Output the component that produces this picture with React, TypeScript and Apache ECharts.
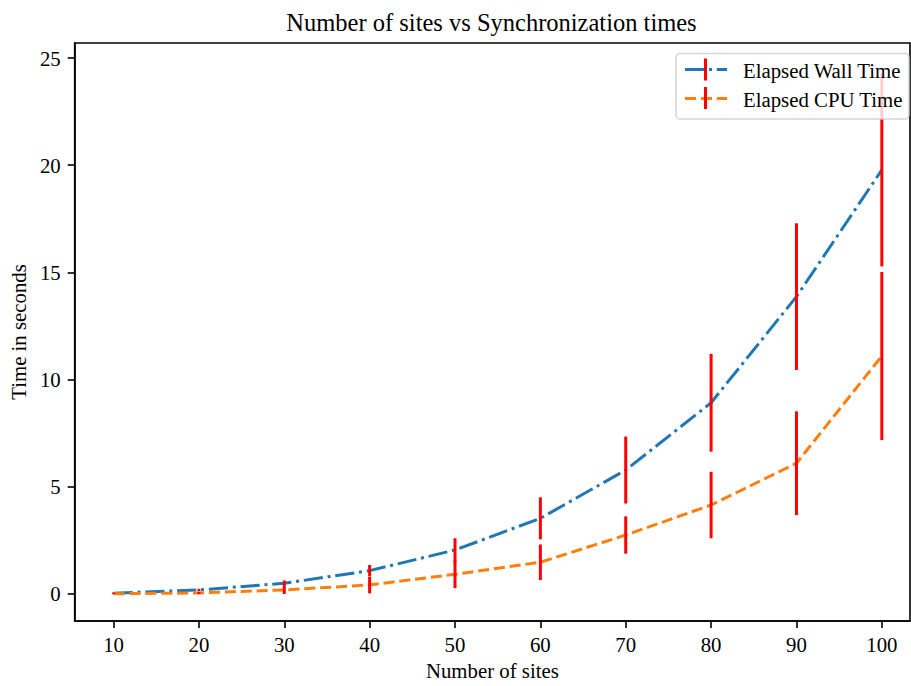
import React, { useEffect, useRef } from "react";
import * as echarts from "echarts";

const sites = [10, 20, 30, 40, 50, 60, 70, 80, 90, 100];
const wallTime = [0.04, 0.19, 0.5, 1.09, 2.05, 3.53, 5.78, 8.92, 13.87, 19.78];
const wallErr = [0.03, 0.05, 0.13, 0.26, 0.55, 0.98, 1.56, 2.28, 3.42, 4.5];
const cpuTime = [0.01, 0.05, 0.19, 0.42, 0.92, 1.48, 2.75, 4.15, 6.1, 11.1];
const cpuErr = [0.02, 0.05, 0.19, 0.39, 0.65, 0.83, 0.87, 1.55, 2.42, 3.92];
const xTicks = [10, 20, 30, 40, 50, 60, 70, 80, 90, 100];
const yTicks = [0, 5, 10, 15, 20, 25];

const FONT = "'Liberation Serif', 'DejaVu Serif', serif";
const FS = 20.8;
const BLUE = "#1f77b4";
const ORANGE = "#ff7f0e";
const RED = "#ff0000";
const DASH_DOT = [19.2, 4.8, 3, 4.8];
const DASHED = [11.1, 4.8];

function errorSeries(values: number[], errs: number[], name: string) {
  return {
    type: "custom",
    name,
    z: 5,
    data: sites.map((x, i) => [x, values[i] - errs[i], values[i] + errs[i]]),
    encode: { x: 0, y: [1, 2] },
    renderItem: (_params: any, api: any) => {
      const p1 = api.coord([api.value(0), api.value(1)]);
      const p2 = api.coord([api.value(0), api.value(2)]);
      return {
        type: "line",
        shape: { x1: p1[0], y1: p1[1], x2: p2[0], y2: p2[1] },
        style: { stroke: RED, lineWidth: 3 },
      };
    },
  };
}

export default function App() {
  const ref = useRef<HTMLDivElement>(null);
  useEffect(() => {
    if (!ref.current) return;
    const chart = echarts.init(ref.current, undefined, { renderer: "svg" });
    const axisCommon = {
      type: "value",
      axisLine: { show: true, onZero: false, lineStyle: { color: "#000", width: 1.6 } },
      splitLine: { show: false },
    };
    chart.setOption({
      animation: false,
      backgroundColor: "#ffffff",
      grid: {
        left: 73,
        right: 1,
        top: 43,
        bottom: 65,
        show: true,
        borderColor: "#000",
        borderWidth: 1.6,
        backgroundColor: "transparent",
      },
      xAxis: {
        ...axisCommon,
        min: 5.45,
        max: 103.3,
        name: "Number of sites",
        nameLocation: "middle",
        nameGap: 34,
        nameTextStyle: { fontFamily: FONT, fontSize: FS, color: "#000" },
        axisTick: {
          show: true,
          inside: false,
          length: 7,
          lineStyle: { color: "#000", width: 1.6 },
          customValues: xTicks,
        },
        axisLabel: {
          customValues: xTicks,
          fontFamily: FONT,
          fontSize: FS,
          color: "#000",
          margin: 13,
        },
      },
      yAxis: {
        ...axisCommon,
        min: -1.26,
        max: 25.7,
        name: "Time in seconds",
        nameLocation: "middle",
        nameGap: 44,
        nameTextStyle: { fontFamily: FONT, fontSize: FS, color: "#000" },
        axisTick: {
          show: true,
          inside: false,
          length: 7,
          lineStyle: { color: "#000", width: 1.6 },
          customValues: yTicks,
        },
        axisLabel: {
          customValues: yTicks,
          fontFamily: FONT,
          fontSize: FS,
          color: "#000",
          margin: 14,
        },
      },
      series: [
        {
          type: "line",
          name: "Elapsed Wall Time",
          data: sites.map((x, i) => [x, wallTime[i]]),
          symbol: "none",
          showSymbol: false,
          z: 3,
          lineStyle: { color: BLUE, width: 3, type: DASH_DOT, cap: "butt" },
        },
        {
          type: "line",
          name: "Elapsed CPU Time",
          data: sites.map((x, i) => [x, cpuTime[i]]),
          symbol: "none",
          showSymbol: false,
          z: 3,
          lineStyle: { color: ORANGE, width: 3, type: DASHED, cap: "butt" },
        },
        errorSeries(wallTime, wallErr, "wall-err"),
        errorSeries(cpuTime, cpuErr, "cpu-err"),
      ],
      graphic: [
        {
          type: "text",
          x: 491.5,
          y: 22,
          z: 100,
          style: {
            text: "Number of sites vs Synchronization times",
            fontFamily: FONT,
            fontSize: 24.5,
            fill: "#000",
            align: "center",
            verticalAlign: "middle",
          },
        },
        {
          type: "group",
          z: 100,
          children: [
            {
              type: "rect",
              z: 100,
              shape: { x: 676, y: 53.5, width: 233, height: 65.5, r: 4 },
              style: { fill: "rgba(255,255,255,0.8)", stroke: "rgba(204,204,204,0.8)", lineWidth: 1.6 },
            },
            {
              type: "line",
              z: 101,
              shape: { x1: 685, y1: 69.5, x2: 727, y2: 69.5 },
              style: { stroke: BLUE, lineWidth: 3, lineDash: DASH_DOT },
            },
            {
              type: "line",
              z: 102,
              shape: { x1: 705.5, y1: 58.5, x2: 705.5, y2: 80.5 },
              style: { stroke: RED, lineWidth: 3 },
            },
            {
              type: "text",
              z: 101,
              x: 743,
              y: 70.5,
              style: {
                text: "Elapsed Wall Time",
                fontFamily: FONT,
                fontSize: FS,
                fill: "#000",
                verticalAlign: "middle",
              },
            },
            {
              type: "line",
              z: 101,
              shape: { x1: 685, y1: 98.5, x2: 727, y2: 98.5 },
              style: { stroke: ORANGE, lineWidth: 3, lineDash: DASHED },
            },
            {
              type: "line",
              z: 102,
              shape: { x1: 705.5, y1: 87, x2: 705.5, y2: 109 },
              style: { stroke: RED, lineWidth: 3 },
            },
            {
              type: "text",
              z: 101,
              x: 743,
              y: 99,
              style: {
                text: "Elapsed CPU Time",
                fontFamily: FONT,
                fontSize: FS,
                fill: "#000",
                verticalAlign: "middle",
              },
            },
          ],
        },
      ],
    });
    return () => chart.dispose();
  }, []);
  return (
    <div
      ref={ref}
      style={{ position: "fixed", left: 0, top: 0, width: 911, height: 686 }}
    />
  );
}
